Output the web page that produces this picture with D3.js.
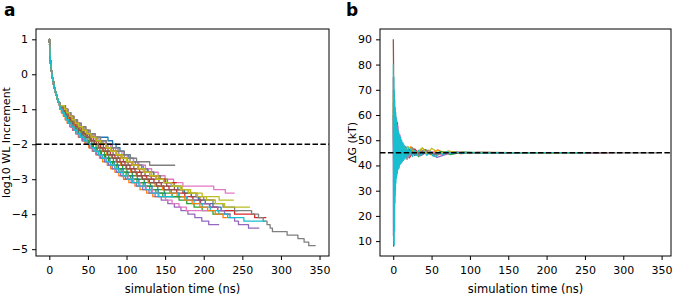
<!DOCTYPE html>
<html><head><meta charset="utf-8">
<script src="https://cdn.jsdelivr.net/npm/d3@7"></script>
<style>
body{margin:0;background:#fff}
svg{display:block}
text{font-family:"DejaVu Sans",sans-serif;fill:#000}
</style></head>
<body>
<svg id="chart" width="675" height="299"></svg>
<script>
// ---------- DATA ----------
const tab10 = ["#1f77b4","#ff7f0e","#2ca02c","#d62728","#9467bd","#8c564b","#e377c2","#7f7f7f","#bcbd22","#17becf"];
const xTicks = [0,50,100,150,200,250,300,350];
const yTicksA = [-5,-4,-3,-2,-1,0,1];
const yTicksB = [10,20,30,40,50,60,70,80,90];
const refA = -2;   // dashed line panel a
const refB = 45;   // dashed line panel b

// WL increment levels (log10), one per stage
const wlLevels = [1,0.9,0.8,0.7,0.6,0.5,0.4,0.3,0.2,0.1,0,-0.1,-0.2,-0.3,-0.4,-0.5,-0.6,-0.7,-0.8,-0.9,
  -1,-1.1,-1.2,-1.3,-1.4,-1.5,-1.6,-1.7,-1.8,-1.9,-2,-2.1,-2.2,-2.3,-2.4,-2.5,-2.6,-2.7,-2.8,-2.9,
  -3,-3.1,-3.2,-3.3,-3.4,-3.5,-3.6,-3.7,-3.8,-3.9,-4,-4.1,-4.2,-4.3,-4.4,-4.5,-4.6,-4.7,-4.8,-4.9];
// times (ns) of the first stage changes, common to all runs (bundle is indistinguishable there)
const earlySteps = [0.2,0.4,0.6,0.8,1.0,1.3,1.6,2.0,2.5,3.1,3.8,4.6,5.5,6.5,7.6,8.8,10.1,11.6,13.3];
// per-run stage-change times from level -1.0 on, and run end time
const runA0  = [16.5,19,22,25,28.5,32.5,37,41.5,46,76,82,86.5,91.5,97,103,109,115,121.5,128,135,142,150,158,166.5,175,184,193,202,212,222.5];
const runA1  = [13.5,15.5,18,20.5,23,26.5,30,34,37.5,42,46,51,55.5,60,65,69,75,79.5,85,90,96,103,111,117.5,126,134];
const runA2  = [16,18.5,21.5,24,27.5,31.5,35.5,40,44.5,50,55,60.5,65.5,71.5,77,83,88,95,100.5,107.5,114,123,131,140.5,149,159,168,178,187.5,198,212];
const runA3  = [18,20.5,23.5,27,30.5,34.5,39.5,44,49.5,55,61,66.5,72.5,79,85,91.5,98,104.5,111,119,126,135.5,145,155,165,175.5,186,196,207.5,218,240,266];
const runA4  = [17,19.5,22.5,25.5,29,33,37.5,42,47,52.5,58,63.5,69,75,81,87,93,99.5,106,113,120.5,129,138.5,148,158,168,178.5,195,208,218,227,234,240,245,258];
const runA5  = [18.5,21.5,25,28,32,36,41.5,46,52,57.5,64,70,76,82.5,89,96,102,109.5,117,124,132,142,152,162,173,184,195];
const runA6  = [21,24.5,28,32,36.5,41,47,52.5,59,65.5,72.5,79.5,86,94,101,109,116,124.5,132.5,141,150,161,173,213,228];
const runA7  = [20.5,23.5,27,30.5,35,39.5,45,50.5,56.5,63,69.5,76,83,90,97,104.5,111.5,119.5,127,135.5,144,153,162,171,180,190,200,212,225,240,262,271,277,282,286,289,308,322,330,336];
const runA8  = [20,23,26.5,30,34,38.5,44,49,55,61,67.5,74,80.5,87.5,94.5,101.5,108.5,116,124,132.5,141,151,161,172,183,198,220];
const runA9  = [17.5,20,23,26,29.5,33.5,38,42.5,47.5,53,58.5,64,69.5,75.5,81.5,87.5,93.5,100,106.5,113.5,120.5,129.5,138.5,148,157.5,167.5,177.5,187.5,198,208.5,219.5,231,252];
const runA10 = [15.5,17.5,20,23,26,29.5,33.5,38,42.5,47.5,52,57,62,67.5,73,78.5,84,89.5,95.5,102,108,116,124,133,141,150];
const runA11 = [16.5,19,22,25,28.5,32.5,37,41.5,46.5,52,57.5,63,68.5,74.5,80.5,86.5,92.5,99,105.5,112.5,119.5,128,137,146.5,156,165.5,175.5,185,195,205,215,225];
const runA12 = [15,17,20,22.5,25.5,29,33,37,41.5,46,51,56,60.5,66,71.5,76.5,82,87.5,93,99.5,105.5,113.5,121.5,130,138,147];
const runA13 = [19.5,22.5,26,29.5,33.5,38,43,48.5,54,60.5,66.5,73,79.5,86,93,100,107,114.5,122,130,138,150];
const runA14 = [14,16,18.5,21,24,27,30.5,34.5,38.5,43,47.5,52,56.5,61.5,66.5,71.5,76.5,81.5,87,92.5,98.5,106,113,121,129,137,145,153.5,162,170.5,179.5,188.5,197.5,206.5];
const runA15 = [17,19.5,22.5,26,29.5,33.5,38,42.5,47.5,53,58.5,64,69.5,75.5,81.5,87.5,93.5,100,106.5,113.5,120.5,129.5,139,148.5];
const runA16 = [14.5,16.5,19,21.5,24.5,28,32,35.5,40,44.5,49,54,58.5,64,69,74,79,84.5,90,96,102,109.5,117.5,125.5,133.5,142,150.5,159,168,177.5];
const runA17 = [21,24,28,32,36.5,41.5,47.5,53,59.5,66.5,74,81.5,89,97,105,113,130];
const runA18 = [19.5,22.5,26,29.5,33.5,38,43,48.5,54,60.5,66.5,73,79.5,86,93,100,107,114.5,122,130,138,148,158.5,169.5,180.5,192,203.5,215,227];
const runA19 = [14,16.5,19.5,22,25,28.5,32,36,40.5,45,49.5,54.5,59,63.5,68.5,73.5,79.5,85,90,95.5,101,108,116,124.5,132,141];
const runAEnd = [245,152,235,281,272,215,240,345,239,280,175,230,170,165,220,170,205,163,260,161];
const runsA = [runA0,runA1,runA2,runA3,runA4,runA5,runA6,runA7,runA8,runA9,runA10,runA11,runA12,runA13,runA14,runA15,runA16,runA17,runA18,runA19];

// panel b: free-energy estimate vs time, [t (ns), dG (kT)]
const runB0 = [[0.2,60],[0.6,8],[1,50],[1.5,30],[2.5,55],[4,38],[6,52],[8,40.5],[11,49],[15,43],[20,46.5],[28,44],[38,45.8],[50,44.5],[65,45.3],[85,44.8],[110,45.2],[150,45],[245,45]];
const runB1 = [[0.3,70],[0.8,20],[1.5,55],[2.5,34],[3.5,57],[5,38],[7,53],[9.5,41],[13,48.5],[17,43],[23,47.5],[30,44],[38,46.8],[48,44.3],[58,46.2],[68,44.6],[80,45.5],[100,44.8],[130,45.1],[152,45]];
const runB2 = [[0.3,65],[0.8,25],[1.5,60],[2.5,32],[3.5,56],[5,37],[7,52],[9.5,41],[13,48],[18,42.5],[25,47],[33,43.5],[42,46.3],[52,43.8],[62,45.6],[75,44.3],[90,45.4],[120,44.9],[160,45.1],[235,45]];
const runB3 = [[0.2,75],[0.7,15],[1.2,62],[2,28],[3,60],[4.5,36],[5.5,57],[7,39],[9,51],[12,42],[16,47.5],[21,43],[28,46.5],[36,44],[46,46],[58,44.2],[72,45.6],[88,44.7],[110,45.2],[150,45],[281,45]];
const runB4 = [[0.3,55],[0.8,30],[1.6,52],[2.6,36],[4,54],[5.5,39],[7.5,50],[10,42],[14,47],[19,43.5],[26,46],[35,43.8],[45,45.5],[57,43.2],[65,44],[78,45.4],[95,44.8],[120,45.2],[160,45],[272,45]];
const runB5 = [[0.1,90],[0.4,80],[0.7,30],[1.0,62],[1.5,35],[2.2,60],[3,38],[4,56],[5.5,40],[7,52],[9,42],[12,48.5],[16,44],[22,46.5],[30,44.2],[40,45.8],[55,44.5],[70,45.4],[90,44.9],[120,45.1],[160,45],[215,45]];
const runB6 = [[0.2,12],[0.5,70],[0.9,15],[1.3,58],[1.8,28],[2.5,62],[3.3,36],[4.2,59],[5.2,37.5],[6.2,55.5],[7.5,39],[9,52],[11,41],[14,48],[18,42.5],[24,47],[32,44],[45,46],[60,44.5],[80,45.4],[110,44.9],[150,45.1],[240,45]];
const runB7 = [[0.3,62],[0.9,22],[1.6,57],[2.6,34],[3.8,55],[5.2,38],[7,51],[9.5,41.5],[13,47.5],[18,43.5],[25,46.8],[33,44.2],[43,46],[55,44.5],[70,45.5],[90,44.8],[120,45.1],[200,45],[345,45]];
const runB8 = [[0.3,68],[0.8,26],[1.5,58],[2.5,35],[3.5,55],[5,40],[7,51.5],[9.5,43],[13,48],[16,46],[19,47.5],[24,46.2],[30,45],[38,47],[44,44.5],[50,46.8],[60,44.8],[72,45.7],[90,44.9],[120,45.2],[180,45],[250,45]];
const runB9 = [[0.2,80],[0.5,10],[0.8,75],[1.1,8.5],[1.4,70],[1.7,14],[2.0,66],[2.3,25],[2.6,63],[2.9,30],[3.2,61],[3.5,33],[3.8,59],[4.1,35],[4.4,58],[4.8,37],[5.2,56],[5.6,38],[6.0,54.5],[6.4,38.5],[6.8,53.5],[7.2,39],[7.7,52.5],[8.2,40],[8.7,51.5],[9.2,40.5],[9.8,51],[10.4,41],[11,50],[11.7,41.5],[12.5,49],[13.3,42],[14.2,48],[15.2,42.5],[16.5,47.5],[18,43],[19.5,47],[21,43.5],[23,46.5],[25,43.5],[27.5,46],[30,44],[33,46],[36,44],[40,45.5],[44,44],[48,45.5],[52,43.8],[56,43.6],[60,45.3],[65,44.3],[70,45.5],[76,44.6],[82,45.3],[90,44.8],[100,45.2],[115,44.9],[130,45.1],[150,45],[180,45],[210,45.05],[250,45]];
const runsB = [runB0,runB1,runB2,runB3,runB4,runB5,runB6,runB7,runB8,runB9];

// ---------- LAYOUT ----------
const svg = d3.select("#chart");
const xDomain = [-17.25, 362.25];
const pA = {l:36, r:329, t:29, b:256};
const pB = {l:380, r:671, t:29, b:256};

const xA = d3.scaleLinear().domain(xDomain).range([pA.l, pA.r]);
const yA = d3.scaleLinear().domain([-5.195, 1.295]).range([pA.b, pA.t]);
const xB = d3.scaleLinear().domain(xDomain).range([pB.l, pB.r]);
const yB = d3.scaleLinear().domain([4.1, 94.1]).range([pB.b, pB.t]);

const defs = svg.append("defs");
function clip(id, p){
  defs.append("clipPath").attr("id", id).append("rect")
    .attr("x", p.l).attr("y", p.t).attr("width", p.r-p.l).attr("height", p.b-p.t);
}
clip("cA", pA); clip("cB", pB);

// panel a lines
const gA = svg.append("g").attr("clip-path","url(#cA)");
const stepLine = d3.line().x(d=>xA(d[0])).y(d=>yA(d[1])).curve(d3.curveStepAfter);
runsA.forEach((run, i) => {
  const steps = earlySteps.concat(run);
  const pts = [[0, wlLevels[0]]];
  steps.forEach((t, k) => pts.push([t, wlLevels[k+1]]));
  pts.push([runAEnd[i], wlLevels[steps.length]]);
  gA.append("path").attr("d", stepLine(pts)).attr("fill","none")
    .attr("stroke", tab10[i % 10]).attr("stroke-width", 1.3).attr("stroke-linejoin","round");
});
gA.append("line").attr("x1", pA.l).attr("x2", pA.r).attr("y1", yA(refA)).attr("y2", yA(refA))
  .attr("stroke","#000").attr("stroke-width",1.5).attr("stroke-dasharray","5.5,2.4");

// panel b lines
const gB = svg.append("g").attr("clip-path","url(#cB)");
const lineB = d3.line().x(d=>xB(d[0])).y(d=>yB(d[1]));
runsB.forEach((run, i) => {
  gB.append("path").attr("d", lineB(run)).attr("fill","none")
    .attr("stroke", tab10[i % 10]).attr("stroke-width", 1.3).attr("stroke-linejoin","round");
});
gB.append("line").attr("x1", pB.l).attr("x2", pB.r).attr("y1", yB(refB)).attr("y2", yB(refB))
  .attr("stroke","#000").attr("stroke-width",1.5).attr("stroke-dasharray","5.5,2.4");

// axes
function axes(p, x, y, yTicks, ylab, ylabX, panel, panelX){
  const gx = svg.append("g").attr("transform", `translate(0,${p.b})`)
    .call(d3.axisBottom(x).tickValues(xTicks).tickSize(4).tickPadding(6).tickFormat(d3.format("d")));
  const gy = svg.append("g").attr("transform", `translate(${p.l},0)`)
    .call(d3.axisLeft(y).tickValues(yTicks).tickSize(4).tickPadding(4).tickFormat(d3.format("d")));
  [gx, gy].forEach(g => {
    g.select(".domain").remove();
    g.selectAll("line").attr("stroke","#000").attr("stroke-width",1);
    g.selectAll("text").attr("font-size","11px").attr("font-family","DejaVu Sans").attr("fill","#000");
  });
  svg.append("rect").attr("x", p.l).attr("y", p.t).attr("width", p.r-p.l).attr("height", p.b-p.t)
    .attr("fill","none").attr("stroke","#000").attr("stroke-width",1);
  svg.append("text").attr("x", (p.l+p.r)/2).attr("y", 293).attr("text-anchor","middle")
    .attr("font-size","11.5px").text("simulation time (ns)");
  svg.append("text").attr("transform", `translate(${ylabX},${(p.t+p.b)/2}) rotate(-90)`)
    .attr("text-anchor","middle").attr("font-size","11px").text(ylab);
  svg.append("text").attr("x", panelX).attr("y", 16).attr("font-size","17px").attr("font-weight","bold").text(panel);
}
axes(pA, xA, yA, yTicksA, "log10 WL Increment", 10, "a", 4);
axes(pB, xB, yB, yTicksB, "ΔG (kT)", 356, "b", 346);
</script>
</body></html>
